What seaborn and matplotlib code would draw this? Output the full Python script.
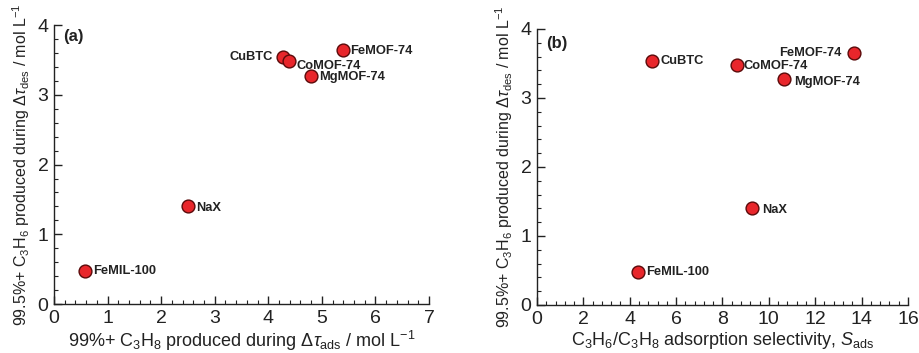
import matplotlib
matplotlib.use("Agg")
import matplotlib.pyplot as plt
import seaborn as sns
import pandas as pd
from matplotlib.ticker import MultipleLocator

materials = ["FeMIL-100", "NaX", "CuBTC", "CoMOF-74", "MgMOF-74", "FeMOF-74"]
c3h8_produced = [0.57, 2.50, 4.27, 4.38, 4.80, 5.40]
selectivity = [4.34, 9.27, 4.95, 8.61, 10.66, 13.68]
c3h6_produced = [0.48, 1.40, 3.54, 3.48, 3.27, 3.65]

df = pd.DataFrame({"material": materials, "c3h8": c3h8_produced,
                   "sel": selectivity, "c3h6": c3h6_produced})

sns.set_theme(style="ticks")
plt.rcParams['font.family'] = ['Liberation Sans', 'DejaVu Sans']
plt.rcParams['mathtext.fontset'] = 'custom'
plt.rcParams['mathtext.rm'] = 'Liberation Sans'
plt.rcParams['mathtext.it'] = 'Liberation Sans:italic'
plt.rcParams['mathtext.bf'] = 'Liberation Sans:bold'

fig = plt.figure(figsize=(9.19, 3.53), dpi=100)
axA = fig.add_axes([0.0588, 0.1388, 0.408, 0.790])
axB = fig.add_axes([0.5843, 0.136, 0.4037, 0.782])

ylabel = r"99.5%+ C$_3$H$_6$ produced during $\Delta\tau_{\rm des}$ / mol L$^{-1}$"

def style(ax, xmax, xmaj, xmin):
    ax.set_xlim(0, xmax)
    ax.set_ylim(0, 4)
    ax.xaxis.set_major_locator(MultipleLocator(xmaj))
    ax.xaxis.set_minor_locator(MultipleLocator(xmin))
    ax.yaxis.set_major_locator(MultipleLocator(1))
    ax.yaxis.set_minor_locator(MultipleLocator(0.2))
    ax.tick_params(which='major', direction='in', length=6, width=1, labelsize=14, colors='#222222', pad=4)
    ax.tick_params(which='minor', direction='in', length=3, width=0.8, colors='#222222')
    for s in ['top', 'right']:
        ax.spines[s].set_visible(False)
    for s in ['left', 'bottom']:
        ax.spines[s].set_linewidth(1)
        ax.spines[s].set_color('#222222')
    ax.set_ylabel(ylabel, fontsize=11.5, color='#222222', labelpad=4)

sns.scatterplot(data=df, x="c3h8", y="c3h6", ax=axA, s=85, color="#e8262b",
                edgecolor="#5a0a0a", linewidth=1, zorder=3, legend=False)
sns.scatterplot(data=df, x="sel", y="c3h6", ax=axB, s=85, color="#e8262b",
                edgecolor="#5a0a0a", linewidth=1, zorder=3, legend=False)

style(axA, 7, 1, 0.2)
style(axB, 16, 2, 0.4)
axA.set_xlabel(r"99%+ C$_3$H$_8$ produced during $\Delta\tau_{\rm ads}$ / mol L$^{-1}$",
               fontsize=13, color='#222222', labelpad=2)
axB.set_xlabel(r"C$_3$H$_6$/C$_3$H$_8$ adsorption selectivity, $S_{\rm ads}$",
               fontsize=13, color='#222222', labelpad=2)

axA.text(0.025, 0.985, "(a)", transform=axA.transAxes, fontsize=12, fontweight='bold', va='top', color='#222222')
axB.text(0.025, 0.975, "(b)", transform=axB.transAxes, fontsize=12, fontweight='bold', va='top', color='#222222')

offA = {"FeMIL-100": (6, 0, 'left'), "NaX": (6, -1, 'left'), "CuBTC": (-7, 0, 'right'),
        "CoMOF-74": (6, -3, 'left'), "MgMOF-74": (6, -1, 'left'), "FeMOF-74": (5, -1, 'left')}
offB = {"FeMIL-100": (6, 0, 'left'), "NaX": (7, -1, 'left'), "CuBTC": (6, 0, 'left'),
        "CoMOF-74": (5, -1, 'left'), "MgMOF-74": (7, -2, 'left'), "FeMOF-74": (-9, 0, 'right')}

for m, x1, x2, y in zip(materials, c3h8_produced, selectivity, c3h6_produced):
    dx, dy, ha = offA[m]
    axA.annotate(m, (x1, y), xytext=(dx, dy), textcoords='offset points', ha=ha, va='center',
                 fontsize=9.3, fontweight='bold', color='#222222')
    dx, dy, ha = offB[m]
    axB.annotate(m, (x2, y), xytext=(dx, dy), textcoords='offset points', ha=ha, va='center',
                 fontsize=9.3, fontweight='bold', color='#222222')

fig.savefig("out.png", dpi=100)
